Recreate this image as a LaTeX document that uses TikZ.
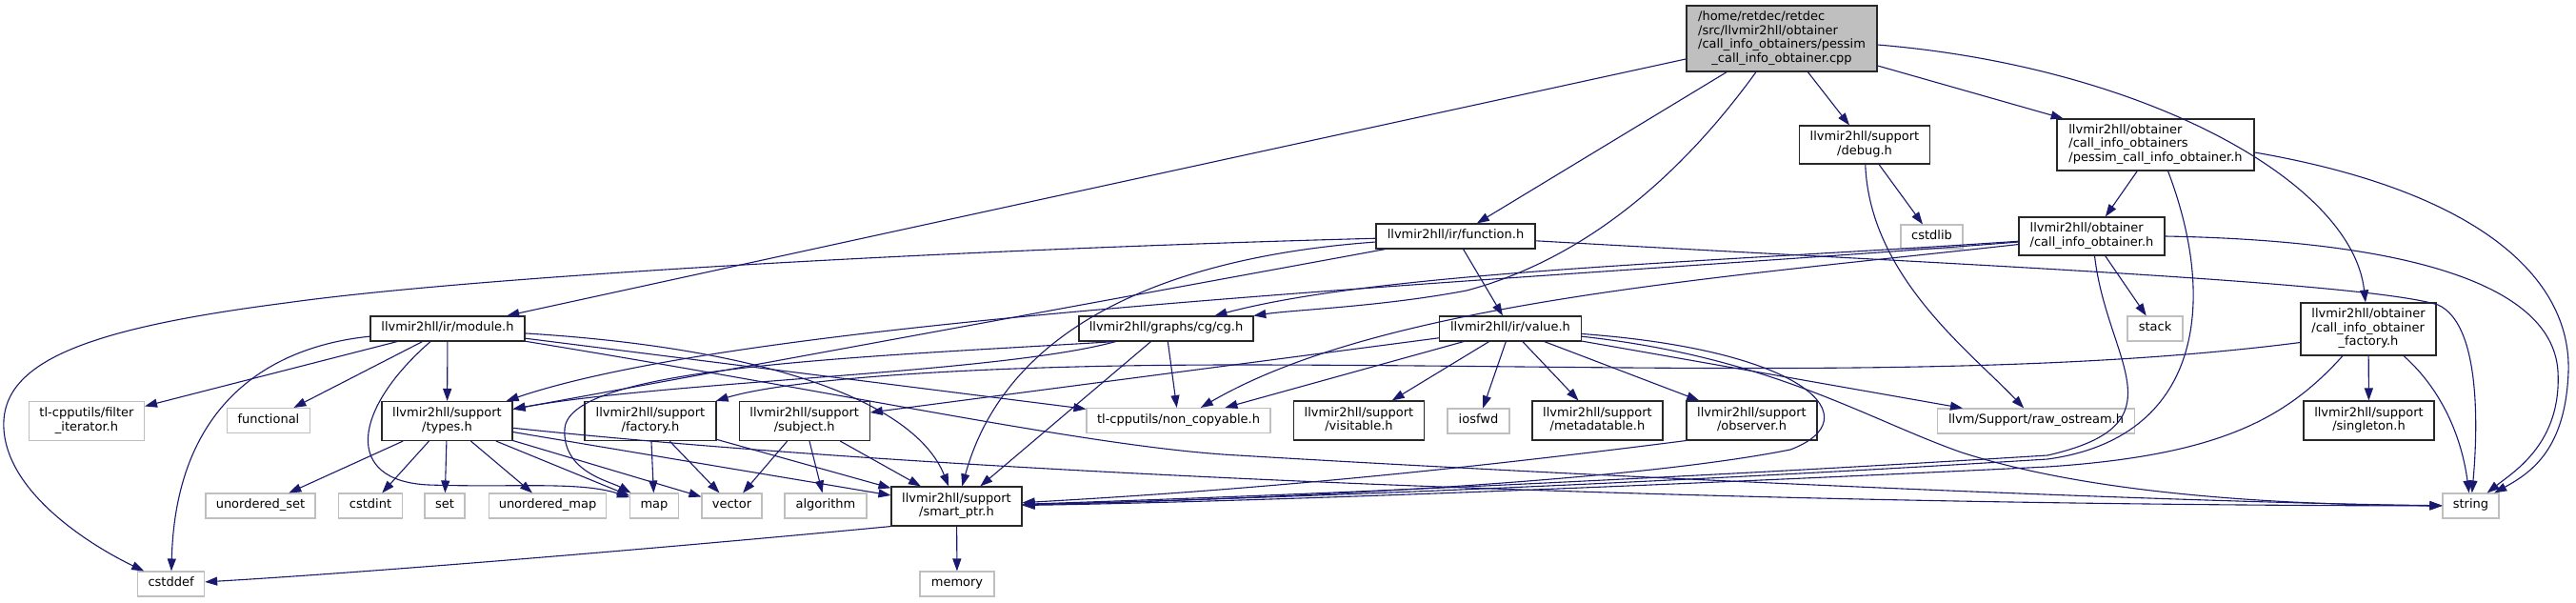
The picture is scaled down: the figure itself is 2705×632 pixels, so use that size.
\documentclass[tikz,border=0pt]{standalone}
\usepackage{fontspec}
\setmainfont{DejaVu Sans}
\usetikzlibrary{arrows.meta}
\definecolor{edgeblue}{RGB}{25,25,112}
\definecolor{extgray}{RGB}{191,191,191}
\definecolor{docborder}{RGB}{40,40,40}
\newcommand{\gf}{\fontsize{13}{14.5}\selectfont}
\newcommand{\tone}[1]{\begin{tabular}{@{}c@{}}#1\end{tabular}}
\newcommand{\tmany}[2]{\begin{tabular}{@{}l@{}}#1\\\multicolumn{1}{@{}c@{}}{#2}\end{tabular}}
\renewcommand{\arraystretch}{1}
\tikzset{
  docbox/.style={draw=docborder, line width=1.1pt, fill=white, inner sep=0pt, font=\gf},
  extbox/.style={draw=extgray, line width=1.1pt, fill=white, inner sep=0pt, font=\gf},
  sz/.style 2 args={minimum width=#1pt, minimum height=#2pt},
  e/.style={draw=edgeblue, line width=1.1pt, -{Triangle[length=13pt,width=9pt]}}
}
\begin{document}
\begin{tikzpicture}[x=1pt,y=-1pt]
\path[use as bounding box, fill=white] (0,0) rectangle (2705,632);
% rank 0
\node[docbox, fill=extgray, sz={200}{69}] (root) at (1871,40.5) {\tmany{/home/retdec/retdec\\/src/llvmir2hll/obtainer\\/call\_info\_obtainers/pessim}{\_call\_info\_obtainer.cpp}};
% rank 1
\node[docbox, sz={137}{40}] (debug) at (1958,152) {\tmany{llvmir2hll/support}{/debug.h}};
\node[docbox, sz={207}{54}] (pessim) at (2263.5,152) {\tmany{llvmir2hll/obtainer\\/call\_info\_obtainers}{/pessim\_call\_info\_obtainer.h}};
% rank 2
\node[docbox, sz={167}{26}] (function) at (1528.5,248) {\tone{llvmir2hll/ir/function.h}};
\node[extbox, sz={65}{25}] (cstdlib) at (2028.5,248.5) {\tone{cstdlib}};
\node[docbox, sz={153}{40}] (cio) at (2196.5,248) {\tmany{llvmir2hll/obtainer}{/call\_info\_obtainer.h}};
% rank 3
\node[docbox, sz={162}{26}] (module) at (470,345) {\tone{llvmir2hll/ir/module.h}};
\node[docbox, sz={183}{26}] (cg) at (1224.5,345) {\tone{llvmir2hll/graphs/cg/cg.h}};
\node[docbox, sz={149}{26}] (value) at (1586,345) {\tone{llvmir2hll/ir/value.h}};
\node[extbox, sz={58}{26}] (stack) at (2263,345) {\tone{stack}};
\node[docbox, sz={142}{55}] (ciof) at (2487,345.5) {\tmany{llvmir2hll/obtainer\\/call\_info\_obtainer}{\_factory.h}};
% rank 4
\node[extbox, sz={121}{41}] (filteriter) at (91,442) {\tmany{tl-cpputils/filter}{\_iterator.h}};
\node[extbox, sz={87}{26}] (functional) at (282,441.5) {\tone{functional}};
\node[docbox, sz={137}{41}] (types) at (469.5,442) {\tmany{llvmir2hll/support}{/types.h}};
\node[docbox, sz={138}{41}] (factory) at (683,442) {\tmany{llvmir2hll/support}{/factory.h}};
\node[docbox, sz={137}{41}] (subject) at (844.7,442) {\tmany{llvmir2hll/support}{/subject.h}};
\node[extbox, sz={193}{26}] (noncopy) at (1237.5,441.5) {\tone{tl-cpputils/non\_copyable.h}};
\node[docbox, sz={137}{41}] (visitable) at (1427,441.5) {\tmany{llvmir2hll/support}{/visitable.h}};
\node[extbox, sz={65}{26}] (iosfwd) at (1552.5,442) {\tone{iosfwd}};
\node[docbox, sz={137}{41}] (metadatable) at (1677.5,441.5) {\tmany{llvmir2hll/support}{/metadatable.h}};
\node[docbox, sz={137}{41}] (observer) at (1839.5,441.5) {\tmany{llvmir2hll/support}{/observer.h}};
\node[extbox, sz={207}{26}] (rawos) at (2138,442) {\tone{llvm/Support/raw\_ostream.h}};
\node[docbox, sz={137}{41}] (singleton) at (2487.5,441.5) {\tmany{llvmir2hll/support}{/singleton.h}};
% rank 5
\node[extbox, sz={115}{26}] (uset) at (273.5,531) {\tone{unordered\_set}};
\node[extbox, sz={67}{26}] (cstdint) at (389,531) {\tone{cstdint}};
\node[extbox, sz={42}{26}] (set) at (467,531) {\tone{set}};
\node[extbox, sz={123}{26}] (umap) at (575,531) {\tone{unordered\_map}};
\node[extbox, sz={51}{26}] (map) at (687,531) {\tone{map}};
\node[extbox, sz={63}{26}] (vector) at (768.5,531) {\tone{vector}};
\node[extbox, sz={86}{26}] (algorithm) at (867,531) {\tone{algorithm}};
\node[docbox, sz={137}{41}] (smartptr) at (1004.5,531.5) {\tmany{llvmir2hll/support}{/smart\_ptr.h}};
\node[extbox, sz={59}{26}] (string) at (2594.5,531) {\tone{string}};
% rank 6
\node[extbox, sz={70}{26}] (cstddef) at (179.6,613) {\tone{cstddef}};
\node[extbox, sz={78}{26}] (memory) at (1005,613) {\tone{memory}};

% ---- edges: root
\draw[e] (root) -- (module);
\draw[e] (root) -- (function);
\draw[e] ([xshift=-27pt]root.south) .. controls (1790,150) and (1690,265) .. (1540,305) .. controls (1450,322) and (1360,325) .. (cg);
\draw[e] (root) -- (debug);
\draw[e] (root) -- (pessim);
\draw[e] ([yshift=-6.5pt]root.east) .. controls (2250,70) and (2470,190) .. (ciof);
% pessim
\draw[e] (pessim) -- (cio);
\draw[e] ([xshift=13pt]pessim.south) .. controls (2330,320) and (2310,460) .. (2150,482) .. controls (1700,510) and (1300,524) .. (smartptr);
\draw[e] ([yshift=-8pt]pessim.east) .. controls (2600,200) and (2700,290) .. (2697,390) .. controls (2694,470) and (2660,495) .. (string);
% debug
\draw[e] (debug) -- (cstdlib);
\draw[e] (debug) .. controls (1963,290) and (2070,370) .. (rawos);
% cio
\draw[e] (cio) .. controls (1800,275) and (1450,285) .. (cg);
\draw[e] (cio) .. controls (1600,295) and (800,330) .. (types);
\draw[e] (cio) .. controls (1800,292) and (1450,318) .. (noncopy);
\draw[e] (cio) -- (stack);
\draw[e] ([xshift=3pt]cio.south) .. controls (2212,380) and (2295,445) .. (2150,478) .. controls (1700,506) and (1300,522) .. (smartptr);
\draw[e] (cio.east) .. controls (2500,252) and (2680,290) .. (2686,390) .. controls (2690,465) and (2640,495) .. (string);
% ciof
\draw[e] ([yshift=-14pt]ciof.west) .. controls (2100,400) and (1700,383) .. (1300,383) .. controls (1000,383) and (820,400) .. (factory);
\draw[e] (ciof) -- (singleton);
\draw[e] ([xshift=-27pt]ciof.south) .. controls (2400,440) and (2330,478) .. (2150,490) .. controls (1700,512) and (1300,527) .. (smartptr);
\draw[e] ([xshift=37pt]ciof.south) .. controls (2565,410) and (2585,460) .. (string);
% function
\draw[e] (function) -- (value);
\draw[e] (function) .. controls (2000,275) and (2480,295) .. (2560,320) .. controls (2605,340) and (2602,450) .. (string);
\draw[e] (function) .. controls (1000,262) and (500,290) .. (300,318) .. controls (90,345) and (0,380) .. (4,450) .. controls (8,520) and (100,575) .. (cstddef);
\draw[e] (function) -- (types);
\draw[e] (function) .. controls (1250,268) and (1060,330) .. (smartptr);
% module
\draw[e] (module) -- (filteriter);
\draw[e] (module) -- (functional);
\draw[e] (module) -- (types);
\draw[e] (module) .. controls (300,362) and (185,410) .. (cstddef);
\draw[e] ([xshift=-18pt]module.south) .. controls (370,430) and (360,505) .. (450,509) .. controls (540,512) and (610,505) .. (map);
\draw[e] (module) -- (noncopy);
\draw[e] (module) .. controls (800,365) and (960,420) .. (smartptr);
\draw[e] (module) .. controls (900,415) and (1150,470) .. (1300,478) .. controls (1700,502) and (2300,528) .. (string);
% cg
\draw[e] ([xshift=-53pt]cg.south) .. controls (1050,392) and (700,400) .. (types);
\draw[e] ([xshift=-53pt]cg.south) .. controls (900,375) and (598,385) .. (593,450) .. controls (590,495) and (640,505) .. (map);
\draw[e] (cg) -- (noncopy);
\draw[e] (cg) -- (smartptr);
% value
\draw[e] (value) -- (noncopy);
\draw[e] (value) -- (subject);
\draw[e] (value) -- (visitable);
\draw[e] (value) -- (iosfwd);
\draw[e] (value) -- (metadatable);
\draw[e] (value) -- (observer);
\draw[e] (value) -- (rawos);
\draw[e] (value) .. controls (1900,368) and (1965,440) .. (1880,472) .. controls (1700,508) and (1300,525) .. (smartptr);
\draw[e] (value) .. controls (1860,375) and (1960,440) .. (2060,475) .. controls (2200,520) and (2400,530) .. (string);
% types
\draw[e] (types) -- (uset);
\draw[e] (types) -- (cstdint);
\draw[e] (types) -- (set);
\draw[e] (types) -- (umap);
\draw[e] (types) -- (map);
\draw[e] (types) -- (vector);
\draw[e] (types) -- (smartptr);
\draw[e] (types) .. controls (1000,498) and (1800,530) .. (string);
% factory
\draw[e] (factory) -- (map);
\draw[e] (factory) -- (vector);
\draw[e] (factory) -- (smartptr);
% subject
\draw[e] (subject) -- (vector);
\draw[e] (subject) -- (algorithm);
\draw[e] (subject) -- (smartptr);
% observer
\draw[e] (observer.south west) .. controls (1500,497) and (1300,515) .. (smartptr);
% smart_ptr
\draw[e] (smartptr.south west) .. controls (700,575) and (400,600) .. (cstddef);
\draw[e] (smartptr) -- (memory);
\end{tikzpicture}
\end{document}
